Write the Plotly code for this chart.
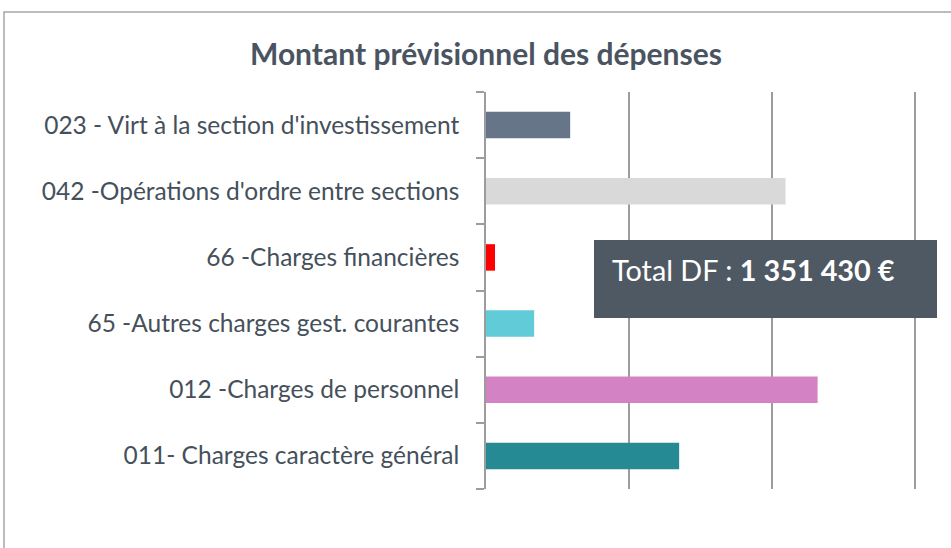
import plotly.graph_objects as go

categories = [
    "011- Charges caractère général",
    "012 -Charges de personnel",
    "65 -Autres charges gest. courantes",
    "66 -Charges financières",
    "042 -Opérations d'ordre entre sections",
    "023 - Virt à la section d'investissement",
]
values = [270330, 464100, 67400, 12600, 419200, 117800]
bar_colors = ["#258a94", "#d383c3", "#61cbd7", "#ff0000", "#d9d9d9", "#667587"]
title_text = "Montant prévisionnel des dépenses"
total_label = "Total DF : "
total_value = "1 351 430 €"

W, H = 951, 548
ML, MR, MT, MB = 486, 32, 92, 59
PW = W - ML - MR
PH = H - MT - MB


def px_x(px):
    return (px - ML) / PW


def px_y(py):
    return (H - MB - py) / PH


FONT = "Lato, 'Open Sans', sans-serif"

fig = go.Figure(
    go.Bar(
        x=values,
        y=categories,
        orientation="h",
        marker=dict(color=bar_colors, line=dict(width=0)),
        hoverinfo="x+y",
    )
)

fig.update_layout(
    width=W,
    height=H,
    margin=dict(l=ML, r=MR, t=MT, b=MB),
    paper_bgcolor="white",
    plot_bgcolor="white",
    bargap=0.6,
    showlegend=False,
    font=dict(family=FONT, color="#45505b"),
    xaxis=dict(
        range=[0, 606000],
        dtick=200000,
        tick0=0,
        showgrid=True,
        gridcolor="#9c9c9c",
        gridwidth=1.5,
        showticklabels=False,
        zeroline=False,
        showline=False,
        ticks="",
        fixedrange=True,
    ),
    yaxis=dict(
        type="category",
        showline=True,
        linecolor="#9c9c9c",
        linewidth=1.5,
        ticks="outside",
        tickson="boundaries",
        ticklen=8,
        tickwidth=1.5,
        tickcolor="#9c9c9c",
        ticklabelstandoff=20,
        tickfont=dict(size=24.5, color="#45505b", family=FONT),
        showgrid=False,
        fixedrange=True,
    ),
    shapes=[
        dict(
            type="rect", xref="paper", yref="paper",
            x0=px_x(4), x1=px_x(1000), y0=px_y(12), y1=px_y(600),
            line=dict(color="#a6a6a6", width=1.5), fillcolor="rgba(0,0,0,0)",
            layer="below",
        ),
        dict(
            type="rect", xref="paper", yref="paper",
            x0=px_x(594), x1=px_x(937), y0=px_y(240), y1=px_y(318),
            line=dict(width=0), fillcolor="#4f5964", layer="above",
        ),
    ],
    annotations=[
        dict(
            text="<b>" + title_text + "</b>",
            xref="paper", yref="paper",
            x=px_x(486), y=px_y(53),
            xanchor="center", yanchor="middle",
            showarrow=False,
            font=dict(size=30, color="#4a5461", family=FONT),
        ),
        dict(
            text=total_label + "<b>" + total_value + "</b>",
            xref="paper", yref="paper",
            x=px_x(610), y=px_y(270),
            xanchor="left", yanchor="middle",
            showarrow=False,
            font=dict(size=28.8, color="white", family=FONT),
        ),
    ],
)

fig.write_html(
    "out.html",
    config={"displayModeBar": False},
    post_script="document.body.style.margin='0px';",
)
